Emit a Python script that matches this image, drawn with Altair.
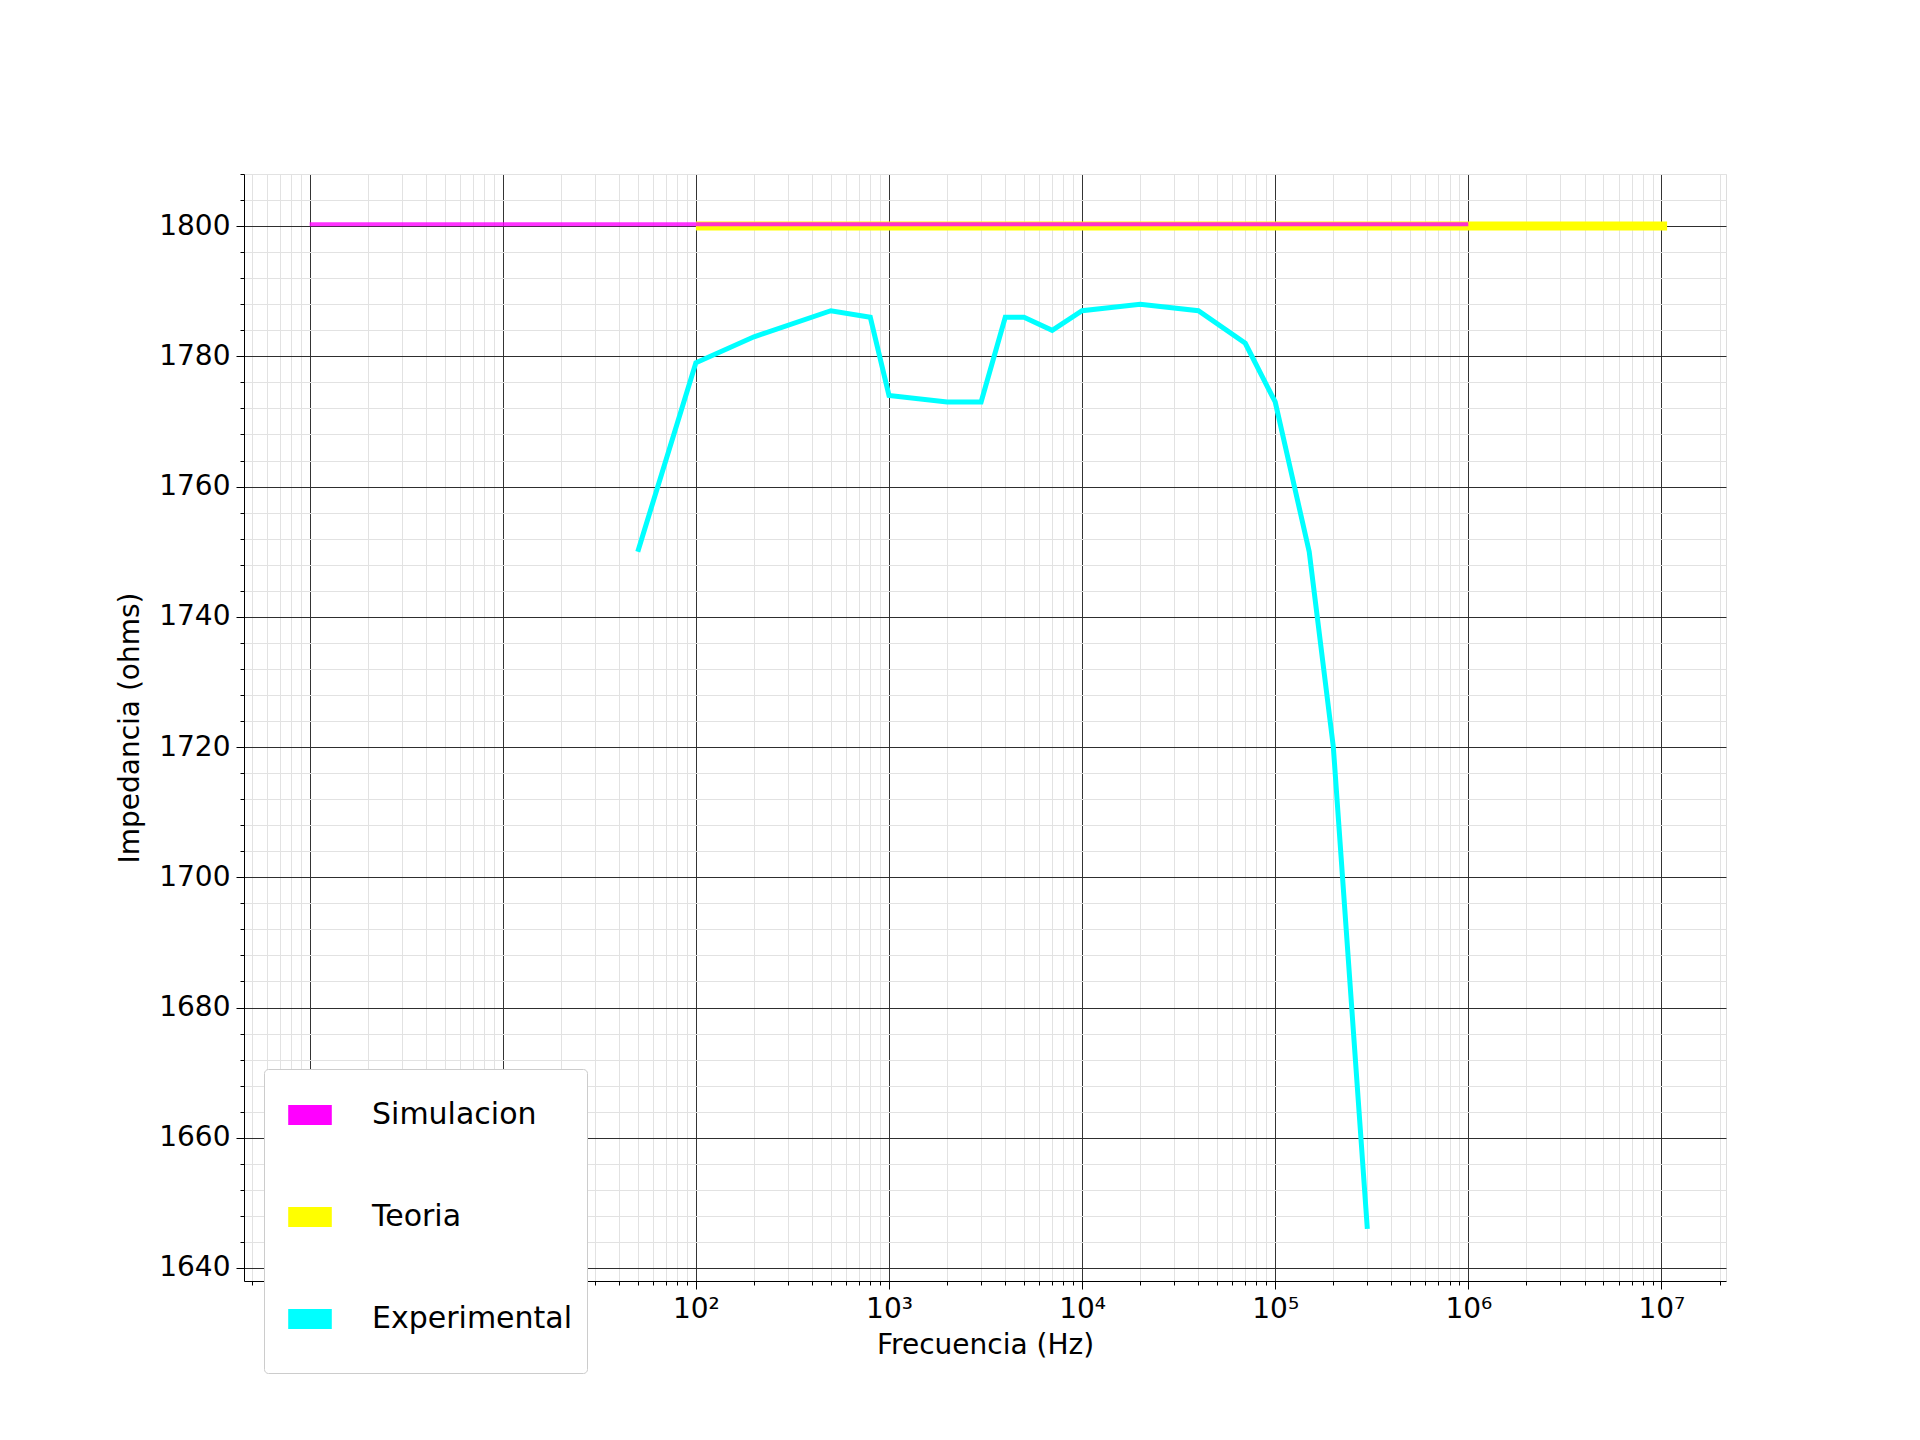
import altair as alt
import pandas as pd

sim_f = [1, 1e6]
sim_z = [1800.3, 1800.3]
teo_f = [100, 1.07e7]
teo_z = [1800, 1800]
exp_f = [50, 100, 200, 500, 800, 1000, 2000, 3000, 4000, 5000, 7000, 10000,
         20000, 40000, 70000, 100000, 150000, 200000, 300000]
exp_z = [1750, 1779, 1783, 1787, 1786, 1774, 1773, 1773, 1786, 1786, 1784, 1787,
         1788, 1787, 1782, 1773, 1750, 1720, 1646]

major_x = [1, 10, 100, 1000, 1e4, 1e5, 1e6, 1e7]
minor_x = [k * 10.0 ** n for n in range(-1, 8) for k in range(2, 10) if 0.45 < k * 10.0 ** n < 2.2e7]
major_y = list(range(1640, 1801, 20))
minor_y = list(range(1640, 1809, 4))

rows = []
for s, f, z, w, o in [("Experimental", exp_f, exp_z, 5, 1.0),
                      ("Teoria", teo_f, teo_z, 9, 1.0),
                      ("Simulacion", sim_f, sim_z, 4, 0.8)]:
    for i, (a, b) in enumerate(zip(f, z)):
        rows.append({"f": a, "z": b, "serie": s, "w": w, "o": o, "ord": i})
df = pd.DataFrame(rows)

xs = alt.Scale(type="log", domain=[0.457, 2.16e7])
ys = alt.Scale(domain=[1638, 1808], nice=False, zero=False)
font = "DejaVu Sans"
fs = 28

minor = alt.Chart(df).mark_point(opacity=0).encode(
    x=alt.X("f:Q", scale=xs, axis=alt.Axis(values=minor_x, labels=False, title=None, orient="bottom",
                                           grid=True, gridColor="#e2e2e2", gridWidth=1, tickSize=4,
                                           tickColor="black", domain=False)),
    y=alt.Y("z:Q", scale=ys, axis=alt.Axis(values=minor_y, labels=False, title=None, orient="left",
                                           grid=True, gridColor="#e2e2e2", gridWidth=1, tickSize=4,
                                           tickColor="black", domain=False)),
)

lines = alt.Chart(df).mark_line().encode(
    x=alt.X("f:Q", scale=xs, axis=alt.Axis(values=major_x, title="Frecuencia (Hz)", orient="bottom",
                                           grid=True, gridColor="black", gridWidth=0.8, tickSize=8,
                                           tickColor="black", domainColor="black",
                                           labelFont=font, titleFont=font, labelFontSize=fs, titleFontSize=fs,
                                           labelColor="black", titleColor="black", titleFontWeight="normal",
                                           labelPadding=6, titlePadding=8,
                                           labelExpr="'10' + ['⁰','¹','²','³','⁴','⁵','⁶','⁷'][round(log(datum.value)/LN10)]")),
    y=alt.Y("z:Q", scale=ys, axis=alt.Axis(values=major_y, title="Impedancia (ohms)", orient="left",
                                           grid=True, gridColor="black", gridWidth=0.8, tickSize=8,
                                           tickColor="black", domainColor="black", format="d",
                                           labelFont=font, titleFont=font, labelFontSize=fs, titleFontSize=fs,
                                           labelColor="black", titleColor="black", titleFontWeight="normal",
                                           labelPadding=6, titlePadding=14)),
    color=alt.Color("serie:N", sort=["Simulacion", "Teoria", "Experimental"],
                    scale=alt.Scale(domain=["Simulacion", "Teoria", "Experimental"],
                                    range=["#ff00ff", "#ffff00", "#00ffff"]),
                    legend=alt.Legend(title=None, orient="none", legendX=20, legendY=895,
                                      symbolType="M-1,0H1", symbolSize=1900,
                                      symbolStrokeWidth=20, symbolOpacity=1,
                                      labelFontSize=30, labelFont=font, labelColor="black", labelLimit=400,
                                      rowPadding=22, labelOffset=30, padding=14,
                                      strokeColor="#cccccc", fillColor="white", cornerRadius=4)),
    strokeWidth=alt.StrokeWidth("w:Q", scale=None),
    opacity=alt.Opacity("o:Q", scale=None),
    detail="serie:N",
    order="ord:Q",
)

chart = alt.layer(minor, lines).resolve_axis(x="independent", y="independent").properties(
    width=1482, height=1107,
    autosize=alt.AutoSizeParams(type="none"),
    padding={"left": 236, "top": 166, "right": 150, "bottom": 140},
).configure_view(stroke="black", strokeWidth=2).configure(background="white")

chart.save("out.html", embed_options={"renderer": "svg", "actions": False})
